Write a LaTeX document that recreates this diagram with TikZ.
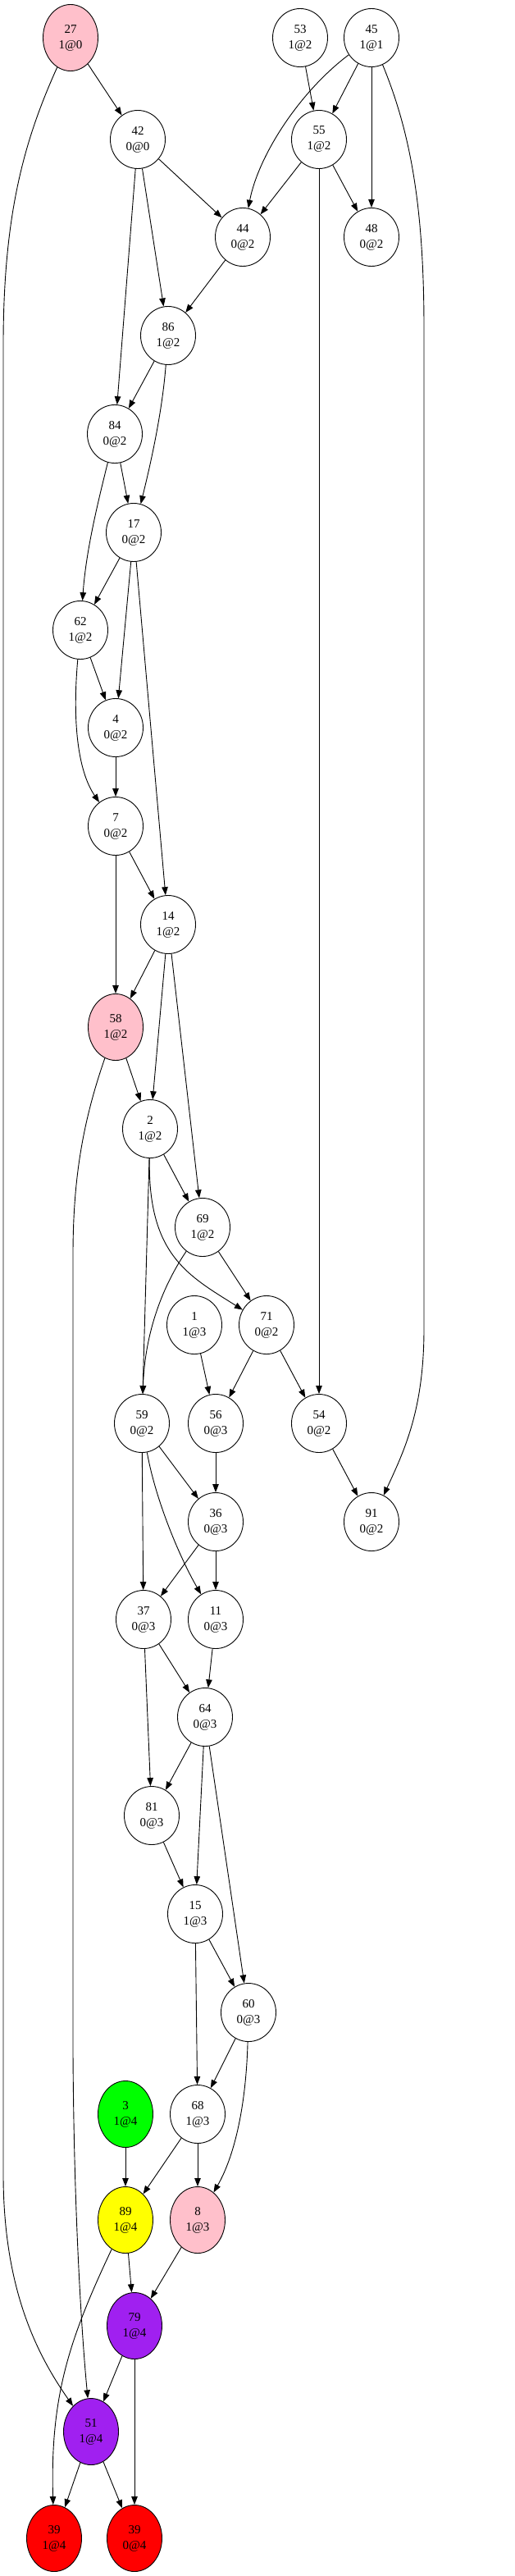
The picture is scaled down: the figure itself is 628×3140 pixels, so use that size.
\documentclass[tikz,border=0pt]{standalone}
\usepackage{fontspec}
\setmainfont{Liberation Serif}
\usetikzlibrary{shapes.geometric,arrows.meta}
\definecolor{gvpink}{HTML}{FFC0CB}
\definecolor{gvgreen}{HTML}{00FF00}
\definecolor{gvyellow}{HTML}{FFFF00}
\definecolor{gvpurple}{HTML}{A020F0}
\definecolor{gvred}{HTML}{FF0000}
\tikzset{
  nd/.style={draw, ellipse, minimum width=67pt, minimum height=71pt, inner sep=0pt,
    align=center, font={\fontsize{15pt}{19pt}\selectfont}, line width=0.9pt},
  cn/.style={nd, minimum height=81pt},
  ed/.style={-{Triangle[length=10pt,width=7.5pt]}, line width=0.9pt},
}
\begin{document}
\begin{tikzpicture}[x=1pt,y=-1pt]
\useasboundingbox (0,0) rectangle (628,3140);
% nodes
\node[cn, fill=gvpink] (n27) at (86,46) {27\\1@0};
\node[nd] (n53) at (366,46) {53\\1@2};
\node[nd] (n45) at (453,46) {45\\1@1};
\node[nd] (n42) at (168,170) {42\\0@0};
\node[nd] (n55) at (389,170) {55\\1@2};
\node[nd] (n44) at (296,289) {44\\0@2};
\node[nd] (n48) at (453,289) {48\\0@2};
\node[nd] (n86) at (205,409) {86\\1@2};
\node[nd] (n84) at (140,529) {84\\0@2};
\node[nd] (n17) at (163,649) {17\\0@2};
\node[nd] (n62) at (98,768) {62\\1@2};
\node[nd] (n4) at (141,887) {4\\0@2};
\node[nd] (n7) at (141,1007) {7\\0@2};
\node[nd] (n14) at (205,1127) {14\\1@2};
\node[cn, fill=gvpink] (n58) at (141,1252) {58\\1@2};
\node[nd] (n2) at (183,1376) {2\\1@2};
\node[nd] (n69) at (247,1496) {69\\1@2};
\node[nd] (n1) at (237,1615) {1\\1@3};
\node[nd] (n71) at (325,1615) {71\\0@2};
\node[nd] (n59) at (173,1735) {59\\0@2};
\node[nd] (n56) at (263,1735) {56\\0@3};
\node[nd] (n54) at (389,1735) {54\\0@2};
\node[nd] (n36) at (263,1855) {36\\0@3};
\node[nd] (n91) at (453,1855) {91\\0@2};
\node[nd] (n37) at (175,1974) {37\\0@3};
\node[nd] (n11) at (263,1974) {11\\0@3};
\node[nd] (n64) at (250,2093) {64\\0@3};
\node[nd] (n81) at (185,2213) {81\\0@3};
\node[nd] (n15) at (238,2333) {15\\1@3};
\node[nd] (n60) at (303,2453) {60\\0@3};
\node[cn, fill=gvgreen] (n3) at (153,2577) {3\\1@4};
\node[nd] (n68) at (241,2577) {68\\1@3};
\node[cn, fill=gvyellow] (n89) at (153,2706) {89\\1@4};
\node[cn, fill=gvpink] (n8) at (241,2706) {8\\1@3};
\node[cn, fill=gvpurple] (n79) at (164,2835) {79\\1@4};
\node[cn, fill=gvpurple] (n51) at (111,2964) {51\\1@4};
\node[cn, fill=gvred] (n39a) at (66,3094) {39\\1@4};
\node[cn, fill=gvred] (n39b) at (164,3094) {39\\0@4};
% edges
\draw[ed] (n27) -- (n42);
\draw[ed] (n27) .. controls (30,170) and (4,260) .. (4,420) -- (4,2650) .. controls (4,2790) and (45,2870) .. (n51);
\draw[ed] (n53) -- (n55);
\draw[ed] (n45) -- (n55);
\draw[ed] (n45) .. controls (365,112) and (315,190) .. (n44);
\draw[ed] (n45) -- (n48);
\draw[ed] (n45) .. controls (500,160) and (517,250) .. (517,400) -- (517,1620) .. controls (517,1720) and (492,1770) .. (n91);
\draw[ed] (n42) -- (n44);
\draw[ed] (n42) -- (n86);
\draw[ed] (n42) -- (n84);
\draw[ed] (n55) -- (n44);
\draw[ed] (n55) -- (n48);
\draw[ed] (n55) -- (n54);
\draw[ed] (n44) -- (n86);
\draw[ed] (n86) -- (n84);
\draw[ed] (n86) .. controls (198,500) and (185,560) .. (n17);
\draw[ed] (n84) -- (n17);
\draw[ed] (n84) .. controls (120,610) and (105,670) .. (n62);
\draw[ed] (n17) -- (n62);
\draw[ed] (n17) -- (n4);
\draw[ed] (n17) -- (n14);
\draw[ed] (n62) -- (n4);
\draw[ed] (n62) .. controls (88,880) and (95,940) .. (n7);
\draw[ed] (n4) -- (n7);
\draw[ed] (n7) -- (n14);
\draw[ed] (n7) -- (n58);
\draw[ed] (n14) -- (n58);
\draw[ed] (n14) -- (n2);
\draw[ed] (n14) -- (n69);
\draw[ed] (n58) -- (n2);
\draw[ed] (n58) .. controls (100,1370) and (89,1440) .. (89,1530) -- (89,2500) .. controls (90,2700) and (100,2850) .. (n51);
\draw[ed] (n2) -- (n69);
\draw[ed] (n2) .. controls (180,1530) and (230,1555) .. (n71);
\draw[ed] (n2) -- (n59);
\draw[ed] (n69) -- (n71);
\draw[ed] (n69) .. controls (190,1580) and (176,1640) .. (n59);
\draw[ed] (n1) -- (n56);
\draw[ed] (n71) -- (n56);
\draw[ed] (n71) -- (n54);
\draw[ed] (n54) -- (n91);
\draw[ed] (n59) -- (n36);
\draw[ed] (n59) -- (n37);
\draw[ed] (n59) .. controls (190,1830) and (220,1900) .. (n11);
\draw[ed] (n56) -- (n36);
\draw[ed] (n36) -- (n37);
\draw[ed] (n36) -- (n11);
\draw[ed] (n37) -- (n64);
\draw[ed] (n37) -- (n81);
\draw[ed] (n11) -- (n64);
\draw[ed] (n64) -- (n81);
\draw[ed] (n64) -- (n15);
\draw[ed] (n64) -- (n60);
\draw[ed] (n81) -- (n15);
\draw[ed] (n15) -- (n60);
\draw[ed] (n15) -- (n68);
\draw[ed] (n60) -- (n68);
\draw[ed] (n60) .. controls (300,2570) and (285,2630) .. (n8);
\draw[ed] (n3) -- (n89);
\draw[ed] (n68) -- (n89);
\draw[ed] (n68) -- (n8);
\draw[ed] (n8) -- (n79);
\draw[ed] (n89) -- (n79);
\draw[ed] (n89) .. controls (85,2850) and (61,2920) .. (n39a);
\draw[ed] (n79) -- (n51);
\draw[ed] (n79) -- (n39b);
\draw[ed] (n51) -- (n39a);
\draw[ed] (n51) -- (n39b);
\end{tikzpicture}
\end{document}
